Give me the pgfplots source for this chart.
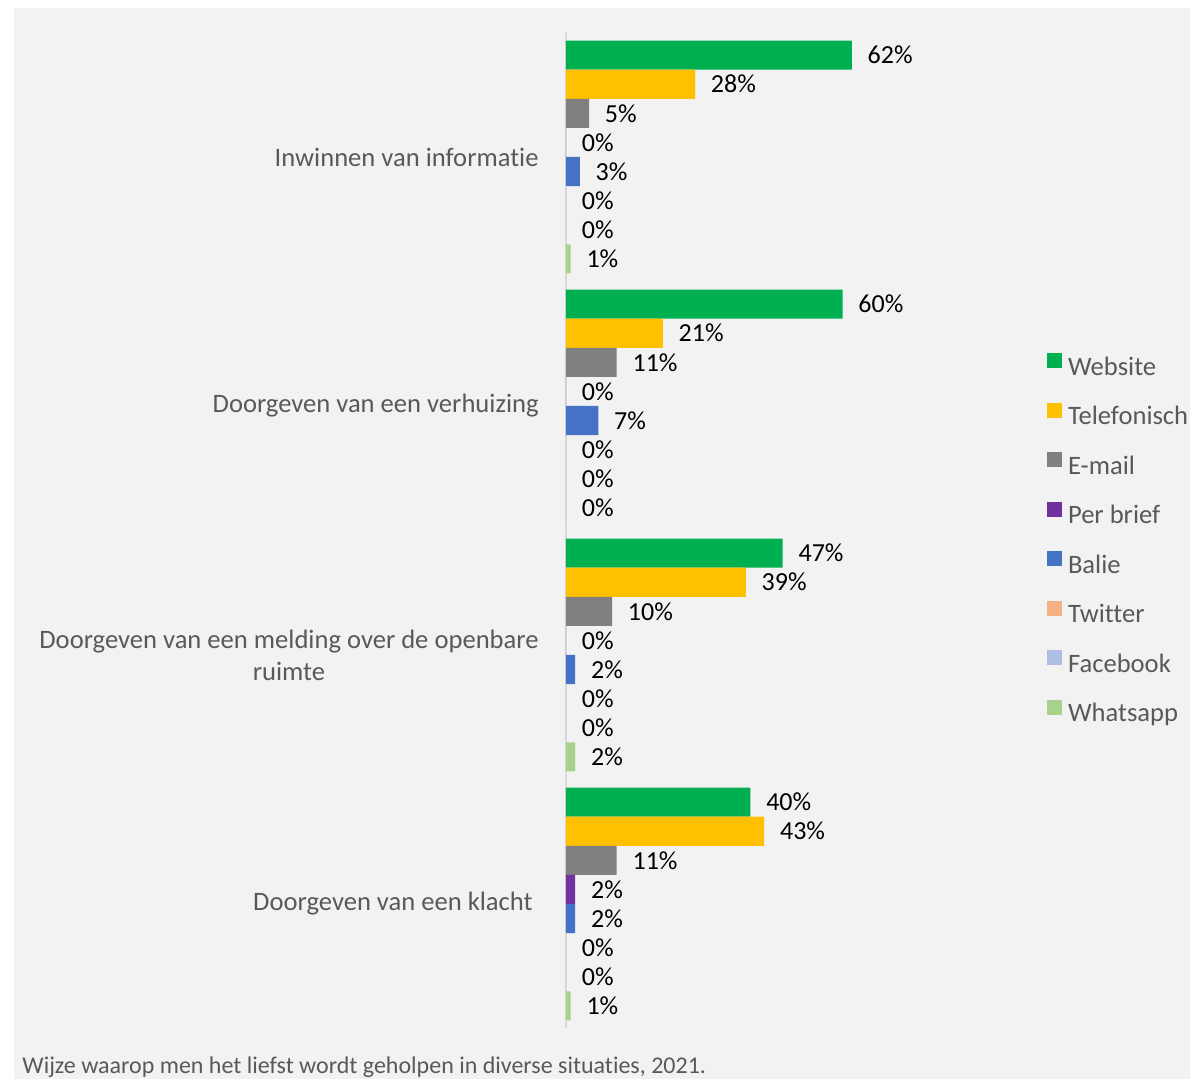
\documentclass[border=0pt]{standalone}
\usepackage{pgfplots}
\pgfplotsset{compat=1.18}
\usepackage{pgfplotstable}
\usepackage{fontspec}
\setmainfont{Carlito}[Ligatures=NoCommon]

\definecolor{cWeb}{HTML}{00B050}
\definecolor{cTel}{HTML}{FFC000}
\definecolor{cMail}{HTML}{808080}
\definecolor{cBrief}{HTML}{7030A0}
\definecolor{cBalie}{HTML}{4472C4}
\definecolor{cTwitter}{HTML}{F4B183}
\definecolor{cFacebook}{HTML}{AFBFE2}
\definecolor{cWhatsapp}{HTML}{A9D18E}
\definecolor{cPanel}{HTML}{F2F2F2}
\definecolor{cAxis}{HTML}{D9D9D9}
\definecolor{cText}{HTML}{595959}

% share (%) per contact channel, one row per situation
\pgfplotstableread{
cat web tel mail brief balie twitter facebook whatsapp
0   62  28  5    0     3     0       0        1
1   60  21  11   0     7     0       0        0
2   47  39  10   0     2     0       0        2
3   40  43  11   2     2     0       0        1
}\kanalen

\newcommand\bw{0.1169}
\newcommand\lbl{\fontsize{13}{16}\selectfont}
\newcommand\cat{\fontsize{13.3}{16}\selectfont}

\begin{document}
\begin{tikzpicture}
\useasboundingbox (0,0) rectangle (595pt,539.5pt);
\fill[white] (0,0) rectangle (595pt,539.5pt);
\fill[cPanel] (7pt,0) rectangle (595pt,535.5pt);
\begin{axis}[
  at={(283pt,25.25pt)}, anchor=south west,
  scale only axis, width=230.5pt, height=498pt,
  xmin=0, xmax=100, ymin=-0.5, ymax=3.5, y dir=reverse,
  axis x line=none, axis y line*=left,
  y axis line style={draw=cAxis, line width=1pt},
  ytick={0,1,2,3},
  yticklabels={Inwinnen van informatie,
               Doorgeven van een verhuizing,
               {Doorgeven van een melding over de openbare\\ruimte},
               Doorgeven van een klacht\hspace*{3pt}},
  major tick length=0pt,
  yticklabel style={anchor=east, align=center, inner sep=0pt,
                    xshift=-13.5pt, font=\cat, text=cText},
  clip=false,
  xbar, bar width=\bw,
  point meta=x,
  /pgf/number format/assume math mode=true,
  nodes near coords={\pgfmathprintnumber{\pgfplotspointmeta}\%},
  every node near coord/.append style={anchor=west, inner sep=0pt,
                    xshift=7.75pt, font=\lbl, text=black},
  legend image code/.code={\fill[#1] (0pt,0.3pt) rectangle (7.5pt,7.8pt);},
  legend cell align=left,
  legend style={at={(1.0434,0.678)}, anchor=north west,
                draw=none, fill=none, inner sep=0pt, outer sep=0pt,
                row sep=10.7pt, column sep=3pt,
                nodes={inner sep=0pt, text height=9.5pt, text depth=3pt,
                       font=\cat, text=cText}},
]
\addplot[fill=cWeb, draw=none, bar shift=0pt]
  table[x=web, y expr=\thisrow{cat}-3.5*\bw] {\kanalen};
\addlegendentry{Website}
\addplot[fill=cTel, draw=none, bar shift=0pt]
  table[x=tel, y expr=\thisrow{cat}-2.5*\bw] {\kanalen};
\addlegendentry{Telefonisch}
\addplot[fill=cMail, draw=none, bar shift=0pt]
  table[x=mail, y expr=\thisrow{cat}-1.5*\bw] {\kanalen};
\addlegendentry{E-mail}
\addplot[fill=cBrief, draw=none, bar shift=0pt]
  table[x=brief, y expr=\thisrow{cat}-0.5*\bw] {\kanalen};
\addlegendentry{Per brief}
\addplot[fill=cBalie, draw=none, bar shift=0pt]
  table[x=balie, y expr=\thisrow{cat}+0.5*\bw] {\kanalen};
\addlegendentry{Balie}
\addplot[fill=cTwitter, draw=none, bar shift=0pt]
  table[x=twitter, y expr=\thisrow{cat}+1.5*\bw] {\kanalen};
\addlegendentry{Twitter}
\addplot[fill=cFacebook, draw=none, bar shift=0pt]
  table[x=facebook, y expr=\thisrow{cat}+2.5*\bw] {\kanalen};
\addlegendentry{Facebook}
\addplot[fill=cWhatsapp, draw=none, bar shift=0pt]
  table[x=whatsapp, y expr=\thisrow{cat}+3.5*\bw] {\kanalen};
\addlegendentry{Whatsapp}
\end{axis}
\node[anchor=west, inner sep=0pt, text=cText, font=\fontsize{12}{14}\selectfont]
  at (11pt,6pt) {Wijze waarop men het liefst wordt geholpen in diverse situaties, 2021.};
\end{tikzpicture}
\end{document}
